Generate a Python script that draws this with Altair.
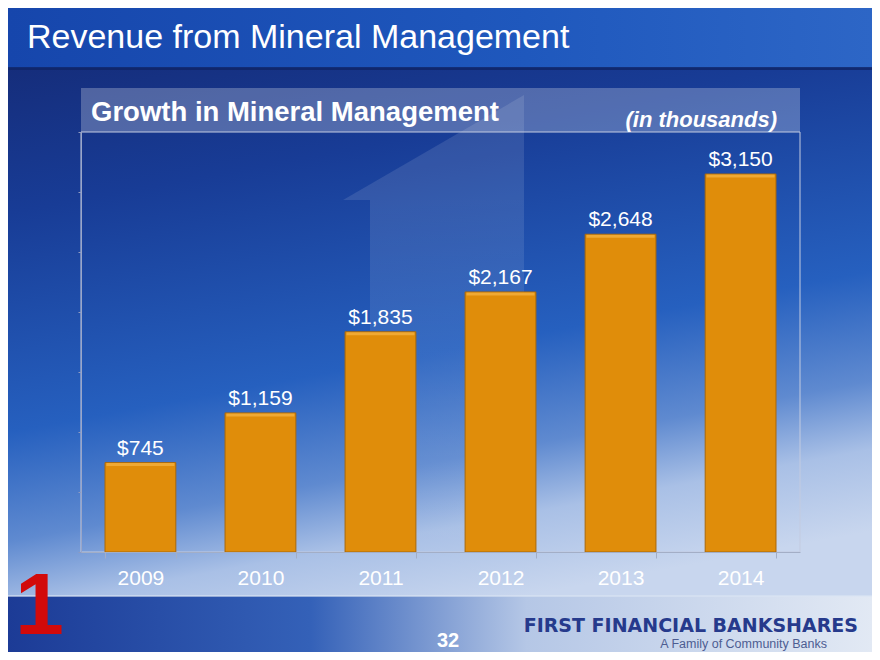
import altair as alt
import pandas as pd

years = ["2009", "2010", "2011", "2012", "2013", "2014"]
values = [745, 1159, 1835, 2167, 2648, 3150]
labels = ["$745", "$1,159", "$1,835", "$2,167", "$2,648", "$3,150"]
y_ticks = [0, 500, 1000, 1500, 2000, 2500, 3000, 3500]

FONT = "Liberation Sans, Arial, Helvetica, sans-serif"
W, H = 719, 420

df = pd.DataFrame({"year": years, "value": values, "label": labels})
one = pd.DataFrame({"k": [0]})

def grad(stops, x1=0, y1=0, x2=0, y2=1):
    return alt.Gradient(gradient="linear", x1=x1, y1=y1, x2=x2, y2=y2,
                        stops=[alt.GradientStop(offset=o, color=c) for o, c in stops])

def deco_rect(x, x2, y, y2, color, opacity=1.0):
    return alt.Chart(one).mark_rect(color=color, opacity=opacity).encode(
        x=alt.value(x), x2=alt.value(x2), y=alt.value(y), y2=alt.value(y2))

def deco_text(txt, x, y, size, color, weight="normal", style="normal", align="left", font=FONT, baseline="alphabetic"):
    return alt.Chart(one).mark_text(
        text=txt, fontSize=size, color=color, fontWeight=weight, fontStyle=style,
        align=align, baseline=baseline, font=font).encode(x=alt.value(x), y=alt.value(y))

# page background
bg = deco_rect(-73, 791, -124, 520, grad([(0, "#142770"), (0.3, "#183c96"), (0.62, "#2660bf"), (0.78, "#5f8ad0"), (0.88, "#a9c0e6"), (1, "#c8d6ee")], 0, 0, 0.25, 1))
top_band = deco_rect(-73, 791, -124, -64, grad([(0, "#1646ac"), (0.6, "#1f58bd"), (1, "#2d66c6")], 0, 0, 1, 0))
top_line = deco_rect(-73, 791, -65, -62, "#0f2466", 0.8)
bottom_strip = deco_rect(-73, 791, 464, 520, grad([(0, "#1c3b96"), (0.35, "#3461b8"), (0.6, "#b5c7e6"), (1, "#e2e9f4")], 0, 0, 1, 0))
strip_line = deco_rect(-73, 791, 463, 465, "#dbe4f3", 0.6)

# faint watermark "1" behind the bars
wm_stem = deco_rect(289, 443, 68, 420, grad([(0, "rgba(255,255,255,0.11)"), (0.7, "rgba(255,255,255,0.05)"), (1, "rgba(255,255,255,0.0)")]))
wm_flag = alt.Chart(one).mark_point(
    shape="M -1 0.58 L 1 -0.58 L 1 0.58 Z", size=32761, filled=True,
    fill="white", fillOpacity=0.11, strokeWidth=0).encode(x=alt.value(352.5), y=alt.value(15.5))

header = deco_rect(0, W, -44, 0, "#ffffff", 0.25)
border = alt.Chart(one).mark_rect(fillOpacity=0, stroke="#c3cbe0", strokeWidth=1).encode(
    x=alt.value(0), x2=alt.value(W), y=alt.value(0), y2=alt.value(H))

title = deco_text("Revenue from Mineral Management", -54, -84, 34, "white")
subtitle = deco_text("Growth in Mineral Management", 10, -11, 27.5, "white", weight="bold")
units = deco_text("(in thousands)", 696, -5, 22, "white", weight="bold", style="italic", align="right")
logo1 = deco_text("1", -66, 502, 88, "#d20a0a", weight="bold")
page_no = deco_text("32", 367, 515, 20, "white", weight="bold", align="center")
brand = deco_text("FIRST FINANCIAL BANKSHARES", 777, 500, 19, "#263a8c", weight=900, align="right", font="DejaVu Sans, Arial")
tag = deco_text("A Family of Community Banks", 746, 516, 12.5, "#4d5d92", align="right")

x_enc = alt.X("year:N", sort=years, title=None,
              scale=alt.Scale(paddingInner=0.41, paddingOuter=0.2),
              axis=alt.Axis(labelFont=FONT, labelFontSize=21, labelColor="white", labelAngle=0,
                            labelPadding=9, domainColor="#a3aec6", tickColor="#a3aec6",
                            tickBand="extent", tickSize=6, ticks=True, zindex=1))
y_enc = alt.Y("value:Q", title=None,
              scale=alt.Scale(domain=[0, 3500], nice=False),
              axis=alt.Axis(values=y_ticks, labels=False, tickSize=3, tickColor="#8f9bc0",
                            domainColor="#9aa6c8", grid=False, zindex=1))

bars = alt.Chart(df).mark_bar(color="#e08d0a", stroke="#a9680a", strokeWidth=1).encode(x=x_enc, y=y_enc)
bevel = alt.Chart(df).mark_tick(color="#f6b545", thickness=3, size=68, yOffset=2).encode(
    x=alt.X("year:N", sort=years), y="value:Q")
text = alt.Chart(df).mark_text(font=FONT, fontSize=21, color="white", baseline="bottom", dy=-4).encode(
    x=alt.X("year:N", sort=years), y="value:Q", text="label:N")

chart = alt.layer(
    bg, top_band, top_line, bottom_strip, strip_line, wm_stem, wm_flag, header, border,
    title, subtitle, units, logo1, page_no, brand, tag,
    bars, bevel, text
).properties(
    width=W, height=H,
    autosize=alt.AutoSizeParams(type="none"),
    padding={"left": 73, "top": 124, "right": 72, "bottom": 100},
    background="#1a3f98"
).configure_view(stroke=None)

chart.save("out.html", embed_options={"renderer": "svg", "actions": False})
